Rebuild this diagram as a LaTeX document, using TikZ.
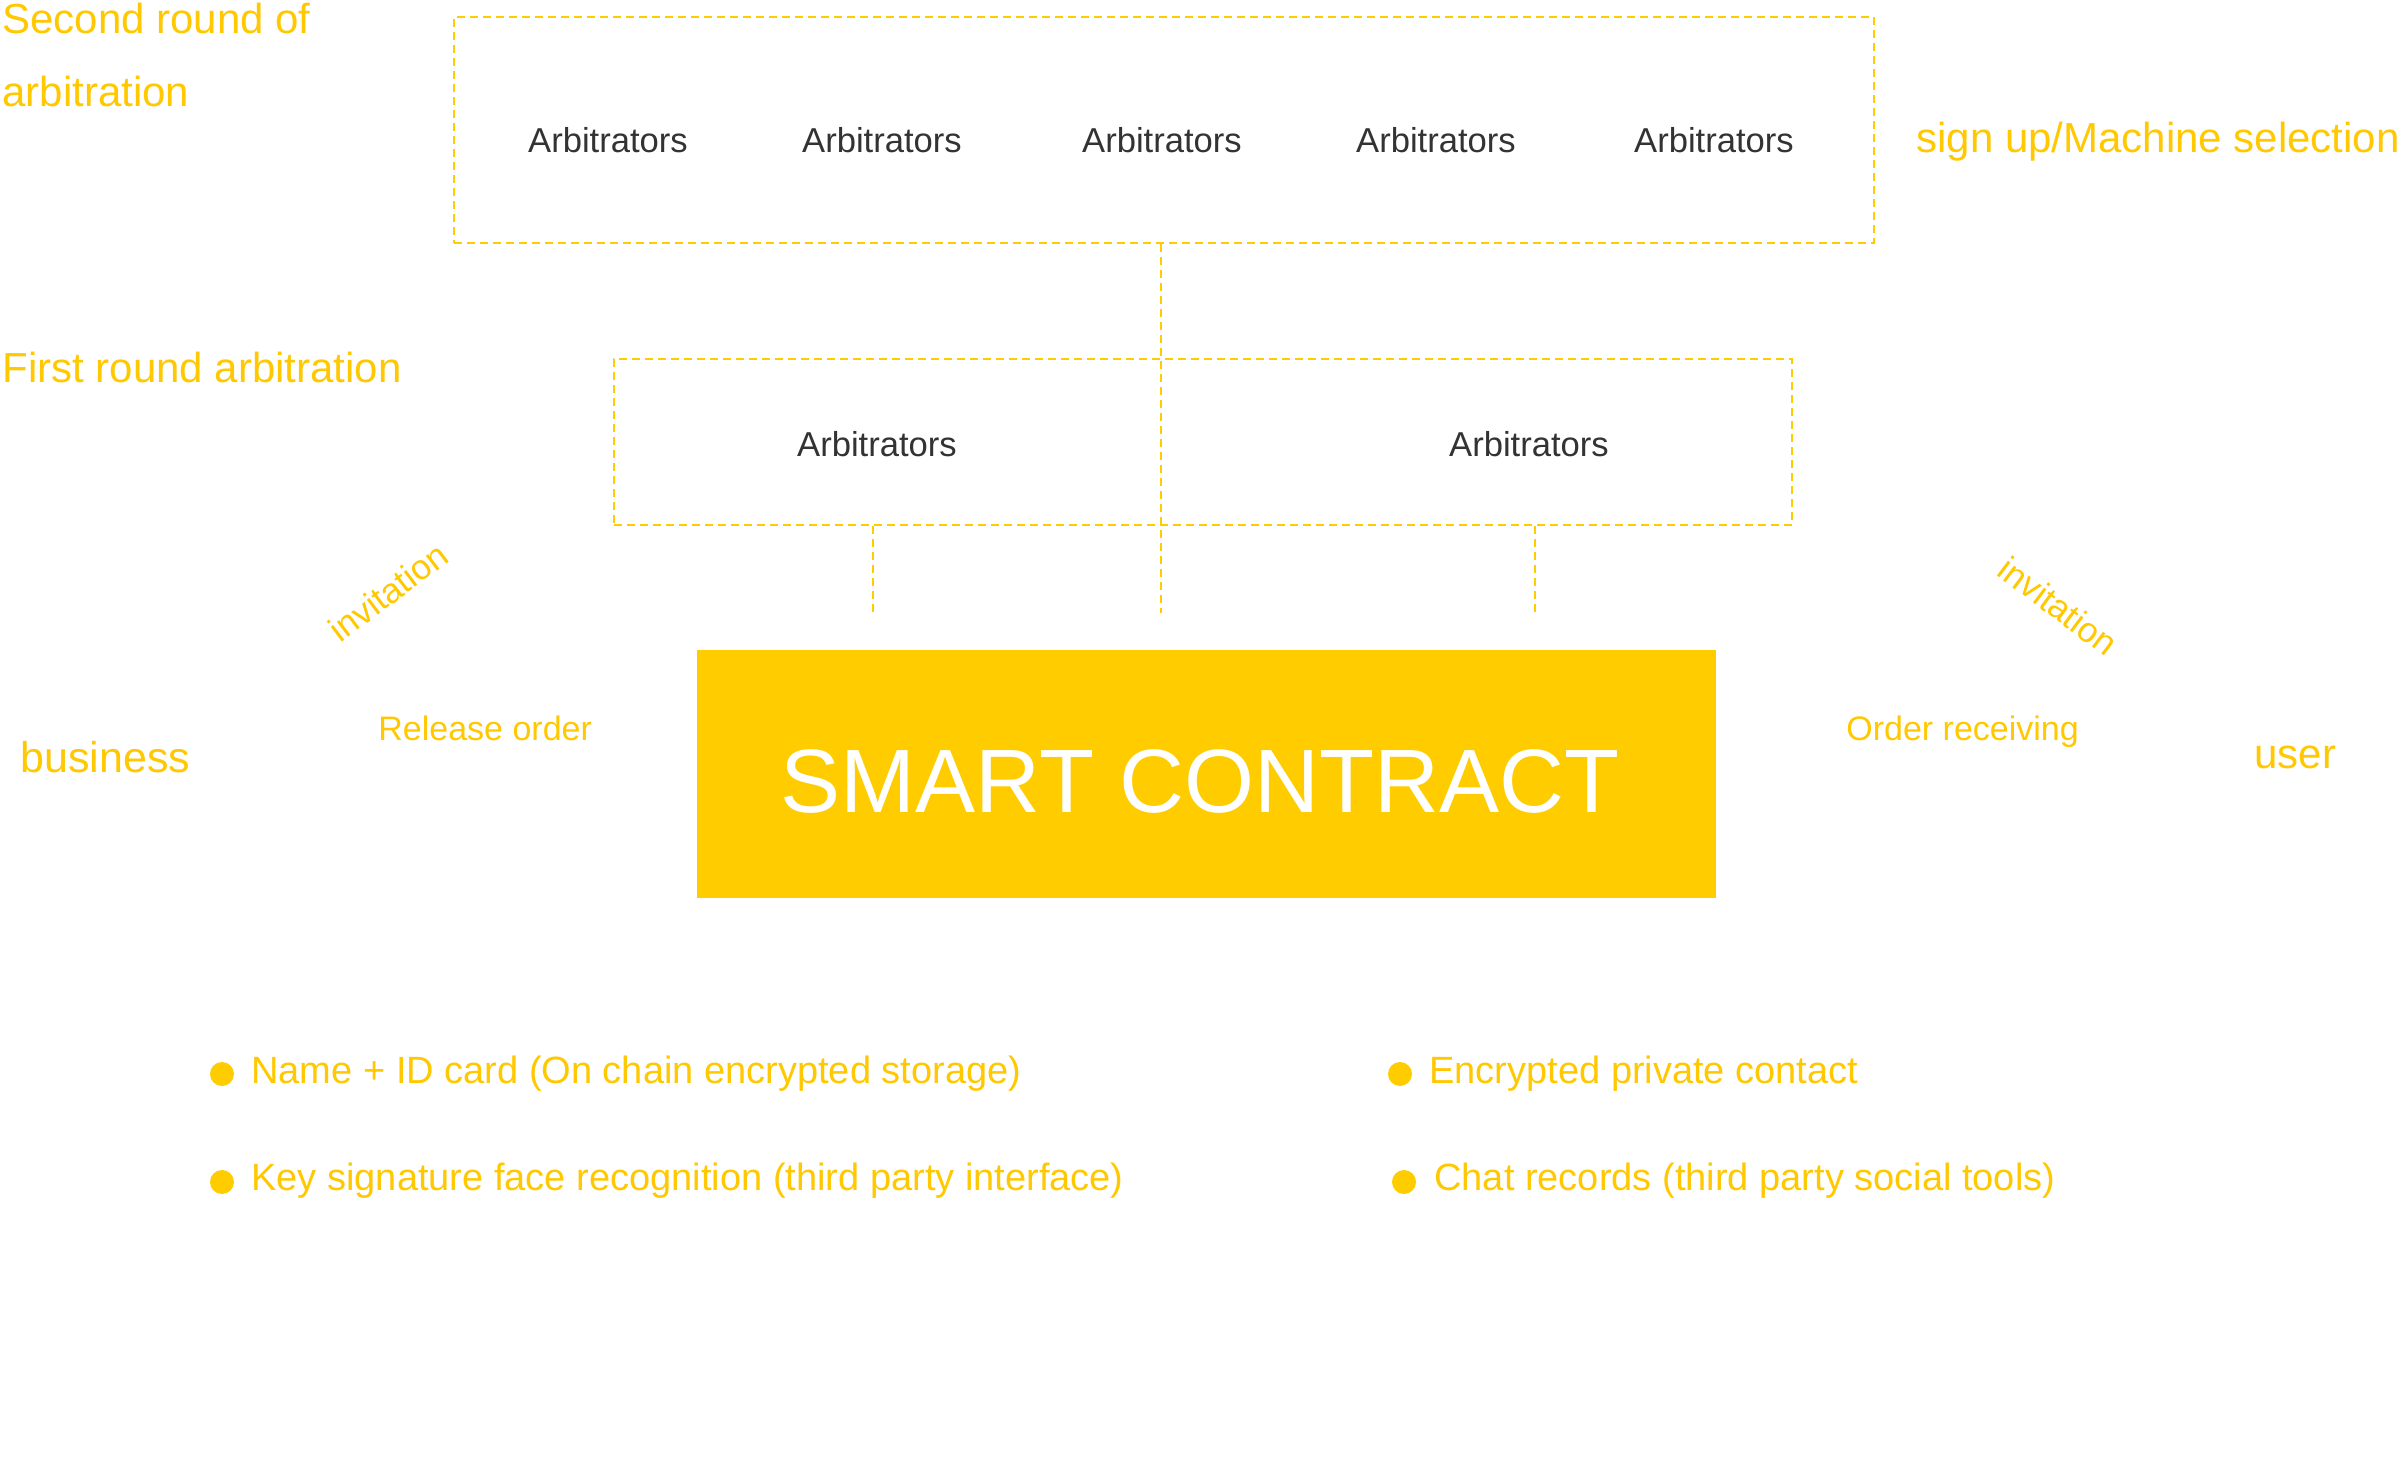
\documentclass[tikz,border=0pt]{standalone}
\usepackage{fontspec}
\setmainfont{Liberation Sans}
\definecolor{ylw}{HTML}{FFCC00}
\definecolor{ytxt}{HTML}{FFC800}
\definecolor{dgray}{HTML}{333333}
\tikzset{
  dline/.style={draw=ylw, line width=0.9pt, dash pattern=on 4pt off 2.5pt},
  ylab/.style={text=ytxt, inner sep=0pt, anchor=base west},
  arb/.style={text=dgray, inner sep=0pt, anchor=base, font=\fontsize{17.3}{20}\selectfont},
  bigl/.style={ylab, font=\fontsize{21}{36.5}\selectfont},
  midl/.style={ylab, font=\fontsize{17}{20}\selectfont},
  bull/.style={ylab, font=\fontsize{19}{22}\selectfont},
  dot/.style={circle, fill=ylw, inner sep=0pt, minimum size=12pt},
}
\begin{document}
\begin{tikzpicture}[x=0.5pt, y=-0.5pt]
\useasboundingbox (0,0) rectangle (2406,1462);
% boxes
\node[dline, minimum width=710pt, minimum height=113pt, inner sep=0pt] (second) at (1164,130) {};
\node[dline, minimum width=589pt, minimum height=83pt, inner sep=0pt] (first) at (1203,442) {};
\node[fill=ylw, minimum width=509.5pt, minimum height=124pt, inner sep=0pt] (sc) at (1206.5,774) {};
\node[text=white, inner sep=0pt, anchor=base, font=\fontsize{45}{50}\selectfont] (sct) at (1200,812) {SMART CONTRACT};
% connector ends
\coordinate (c1) at (1161,613);
\coordinate (c2) at (873,613);
\coordinate (c3) at (1535,613);
\draw[dline] (c1 |- second.south) -- (c1);
\draw[dline] (c2 |- first.south) -- (c2);
\draw[dline] (c3 |- first.south) -- (c3);
% arbitrators
\node[arb] (a1) at (608,152) {Arbitrators};
\node[arb] (a2) at (882,152) {Arbitrators};
\node[arb] (a3) at (1162,152) {Arbitrators};
\node[arb] (a4) at (1436,152) {Arbitrators};
\node[arb] (a5) at (1714,152) {Arbitrators};
\node[arb] (b1) at (877,456) {Arbitrators};
\node[arb] (b2) at (1529,456) {Arbitrators};
% labels
\node[bigl, align=left] (l2nd) at (2,106) {Second round of\\arbitration};
\node[bigl] (lsign) at (1916,152) {sign up/Machine selection};
\node[bigl] (l1st) at (2,382) {First round arbitration};
\node[ylab, font=\fontsize{21.5}{24}\selectfont] (lbus) at (20,772) {business};
\node[bigl] (luser) at (2254,768) {user};
\node[midl] (lrel) at (378,740) {Release order};
\node[midl] (lord) at (1846,740) {Order receiving};
\node[text=ytxt, inner sep=0pt, font=\fontsize{17.5}{20}\selectfont, rotate=37] (inv1) at (388,592) {invitation};
\node[text=ytxt, inner sep=0pt, font=\fontsize{17.5}{20}\selectfont, rotate=-37] (inv2) at (2058,606) {invitation};
% bullets
\node[dot] (d1) at (222,1074) {};
\node[dot] (d2) at (222,1182) {};
\node[dot] (d3) at (1400,1074) {};
\node[dot] (d4) at (1404,1182) {};
\node[bull] (t1) at (251,1083) {Name + ID card (On chain encrypted storage)};
\node[bull] (t2) at (251,1190) {Key signature face recognition (third party interface)};
\node[bull] (t3) at (1429,1083) {Encrypted private contact};
\node[bull] (t4) at (1434,1190) {Chat records (third party social tools)};
\end{tikzpicture}
\end{document}
